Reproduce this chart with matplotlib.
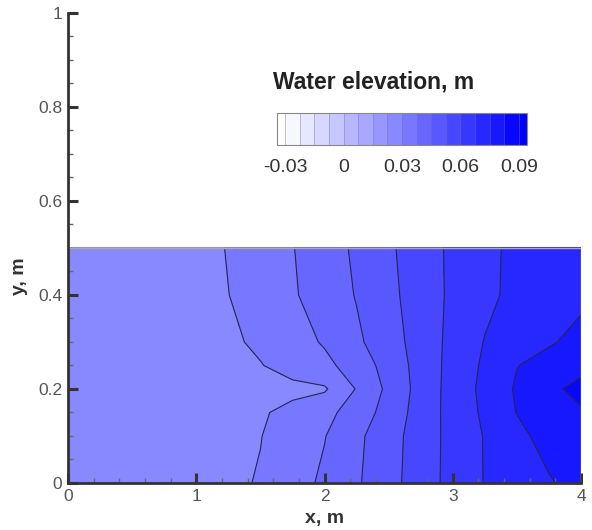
import numpy as np
import matplotlib
matplotlib.use('Agg')
import matplotlib.pyplot as plt
from matplotlib.colors import LinearSegmentedColormap
from matplotlib.ticker import MultipleLocator, FuncFormatter

plt.rcParams['font.family'] = ['Liberation Sans', 'DejaVu Sans']

# grid of the channel (m)
x_pos = [0.0, 1.0, 1.25, 1.5, 1.75, 2.0, 2.25, 2.5, 2.75, 3.0, 3.25, 3.5, 3.75, 4.0]
y_pos = [0.0, 0.1, 0.15, 0.2, 0.25, 0.3, 0.4, 0.5]

# water elevation (m), one row per y_pos
elev_y000 = [0.026, 0.027, 0.0286, 0.0305, 0.0345, 0.0388, 0.0441, 0.0499, 0.0563, 0.0624, 0.0678, 0.0711, 0.0743, 0.0776]
elev_y010 = [0.026, 0.027, 0.0284, 0.0298, 0.0334, 0.0372, 0.0434, 0.0495, 0.0560, 0.0624, 0.0679, 0.0730, 0.0778, 0.0810]
elev_y015 = [0.026, 0.027, 0.0282, 0.0293, 0.0317, 0.0354, 0.0407, 0.0480, 0.0556, 0.0627, 0.0688, 0.0752, 0.0785, 0.0815]
elev_y020 = [0.026, 0.027, 0.0277, 0.0280, 0.0284, 0.0291, 0.0379, 0.0467, 0.0552, 0.0628, 0.0694, 0.0759, 0.0805, 0.0851]
elev_y025 = [0.026, 0.027, 0.0283, 0.0297, 0.0325, 0.0357, 0.0407, 0.0479, 0.0553, 0.0625, 0.0687, 0.0748, 0.0775, 0.0800]
elev_y030 = [0.026, 0.027, 0.0288, 0.0312, 0.0346, 0.0382, 0.0437, 0.0493, 0.0556, 0.0621, 0.0678, 0.0711, 0.0743, 0.0770]
elev_y040 = [0.026, 0.027, 0.0299, 0.0333, 0.0367, 0.0409, 0.0454, 0.0506, 0.0561, 0.0614, 0.0658, 0.0694, 0.0715, 0.0735]
elev_y050 = [0.026, 0.027, 0.0304, 0.0338, 0.0372, 0.0416, 0.0462, 0.0513, 0.0565, 0.0614, 0.0656, 0.0693, 0.0712, 0.0730]

levels = np.linspace(-0.03, 0.09, 17)
cbar_ticks = [-0.03, 0, 0.03, 0.06, 0.09]
cbar_labels = ['-0.03', '0', '0.03', '0.06', '0.09']

Z = np.array([elev_y000, elev_y010, elev_y015, elev_y020,
              elev_y025, elev_y030, elev_y040, elev_y050])
X, Y = np.meshgrid(x_pos, y_pos)

cmap = LinearSegmentedColormap.from_list('wb', ['#ffffff', '#0000ff'])
cmap.set_under('#ffffff')
cmap.set_over('#0000ff')

fig = plt.figure(figsize=(5.92, 5.30), dpi=100)
ax = fig.add_axes([0.1149, 0.0887, 0.8665, 0.8868])

cf = ax.contourf(X, Y, Z, levels=levels, cmap=cmap, extend='both')
ax.contour(X, Y, Z, levels=levels, colors='#262650', linewidths=0.8)
# domain border
ax.plot([x_pos[0], x_pos[-1], x_pos[-1]], [y_pos[-1], y_pos[-1], y_pos[0]],
        color='#aaaaaa', lw=1.0)

ax.set_xlim(0, 4)
ax.set_ylim(0, 1)
for s in ['top', 'right']:
    ax.spines[s].set_visible(False)
for s in ['left', 'bottom']:
    ax.spines[s].set_color('#333333')
    ax.spines[s].set_linewidth(2)

ax.xaxis.set_major_locator(MultipleLocator(1))
ax.xaxis.set_minor_locator(MultipleLocator(0.2))
ax.yaxis.set_major_locator(MultipleLocator(0.2))
ax.yaxis.set_minor_locator(MultipleLocator(0.05))
fmt = FuncFormatter(lambda v, p: '{:g}'.format(round(v, 2)))
ax.xaxis.set_major_formatter(fmt)
ax.yaxis.set_major_formatter(fmt)
ax.tick_params(which='major', direction='in', length=7, width=2.2, color='#333333',
               labelsize=12.5, labelcolor='#555555', pad=4)
ax.tick_params(which='minor', direction='in', length=3.5, width=1, color='#666666')

ax.set_xlabel('x, m', fontsize=14, fontweight='bold', color='#333333')
ax.set_ylabel('y, m', fontsize=14, fontweight='bold', color='#333333')
ax.xaxis.set_label_coords(0.5, -0.058)
ax.yaxis.set_label_coords(-0.078, 0.44)

cax = fig.add_axes([277 / 592, 1 - 145 / 530, 250 / 592, 32 / 530])
cb = fig.colorbar(cf, cax=cax, orientation='horizontal', drawedges=True,
                  extendrect=True, extendfrac=0.035)
cb.set_ticks(cbar_ticks)
cb.set_ticklabels(cbar_labels)
cb.ax.tick_params(length=0, labelsize=14, labelcolor='#333333', pad=10)
cb.outline.set_edgecolor('#888888')
cb.outline.set_linewidth(0.8)
cb.dividers.set_color('#7777aa')
cb.dividers.set_linewidth(0.5)
cb.dividers.set_alpha(0.6)
fig.text(273 / 592, 1 - 82 / 530, 'Water elevation, m', fontsize=16.5,
         fontweight='bold', color='#222222', va='center', ha='left')

fig.savefig('out.png', dpi=100)
